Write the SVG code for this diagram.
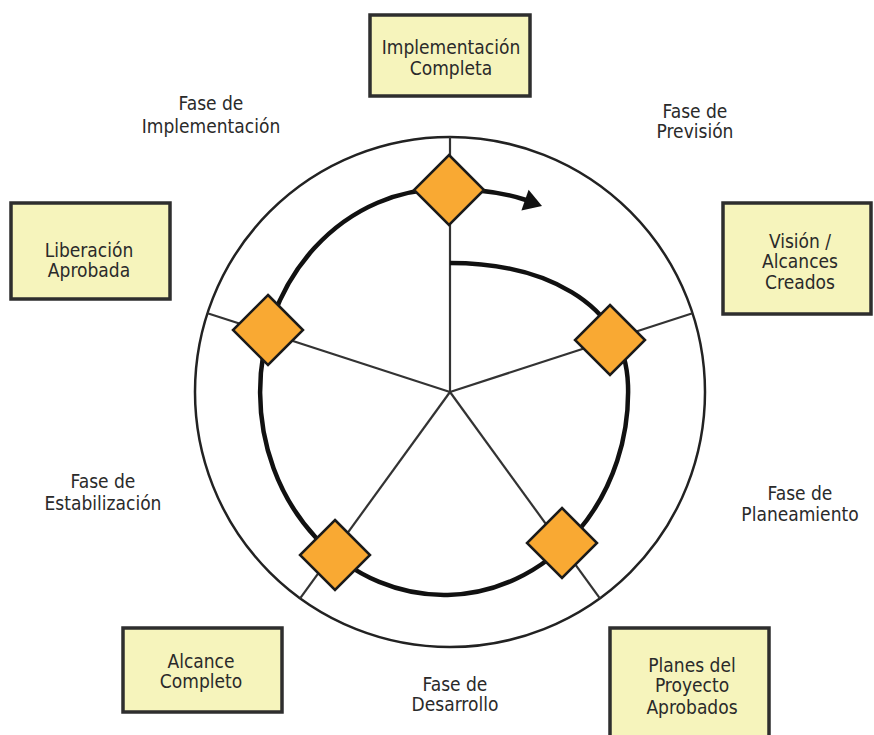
<svg xmlns="http://www.w3.org/2000/svg" width="874" height="735" viewBox="0 0 874 735">
<style>
.box{fill:#F6F4BC;stroke:#2e2e2e;stroke-width:3.5}
.t{font-family:"DejaVu Sans Condensed","DejaVu Sans",sans-serif;font-size:19px;fill:#2a2a2a;text-anchor:middle}
.spoke{stroke:#333;stroke-width:2.2;fill:none}
.ring{stroke:#222;stroke-width:2.5;fill:none}
.spiral{stroke:#111;stroke-width:4.5;fill:none}
.dia{fill:#F9A933;stroke:#1a1a1a;stroke-width:2.5}
</style>
<defs>
<path id="d" d="M0,-35 L35,0 L0,35 L-35,0 Z"/>
</defs>
<rect width="874" height="735" fill="#fff"/>
<g id="connectors">
<circle class="ring" cx="450" cy="392" r="255"/>
<line class="spoke" x1="450" y1="392" x2="450" y2="137"/>
<line class="spoke" x1="450" y1="392" x2="692.5" y2="313.2"/>
<line class="spoke" x1="450" y1="392" x2="599.9" y2="598.3"/>
<line class="spoke" x1="450" y1="392" x2="300.1" y2="598.3"/>
<line class="spoke" x1="450" y1="392" x2="207.5" y2="313.2"/>
<path class="spiral" d="M450,263 C540,263 625,300 628,385 A184,203 0 1 1 446,189 C475,189 505,193 526,200"/>
<polygon points="542,206 528.6,189.7 521.4,210.5" fill="#111"/>
</g>
<g id="d-top"><use href="#d" class="dia" x="449" y="190"/></g>
<g id="d-right"><use href="#d" class="dia" x="610" y="340"/></g>
<g id="d-lowright"><use href="#d" class="dia" x="562" y="543"/></g>
<g id="d-lowleft"><use href="#d" class="dia" x="335" y="555"/></g>
<g id="d-left"><use href="#d" class="dia" x="268" y="330"/></g>
<g id="box-impl"><rect class="box" x="370" y="15" width="160" height="81"/><text class="t" x="451" y="54">Implementación</text><text class="t" x="451" y="75">Completa</text></g>
<g id="box-lib"><rect class="box" x="11" y="203" width="159" height="96"/><text class="t" x="89" y="257">Liberación</text><text class="t" x="89" y="277">Aprobada</text></g>
<g id="box-vision"><rect class="box" x="723" y="203" width="148" height="111"/><text class="t" x="800" y="248">Visión /</text><text class="t" x="800" y="268">Alcances</text><text class="t" x="800" y="289">Creados</text></g>
<g id="box-alc"><rect class="box" x="123" y="628" width="159" height="84"/><text class="t" x="201" y="668">Alcance</text><text class="t" x="201" y="688">Completo</text></g>
<g id="box-planes"><rect class="box" x="610" y="628" width="159" height="112"/><text class="t" x="692" y="672">Planes del</text><text class="t" x="692" y="692">Proyecto</text><text class="t" x="692" y="714">Aprobados</text></g>
<g id="lbl-impl"><text class="t" x="211" y="110">Fase de</text><text class="t" x="211" y="133">Implementación</text></g>
<g id="lbl-prev"><text class="t" x="695" y="118">Fase de</text><text class="t" x="695" y="138">Previsión</text></g>
<g id="lbl-plan"><text class="t" x="800" y="500">Fase de</text><text class="t" x="800" y="521">Planeamiento</text></g>
<g id="lbl-des"><text class="t" x="455" y="691">Fase de</text><text class="t" x="455" y="711">Desarrollo</text></g>
<g id="lbl-est"><text class="t" x="103" y="488">Fase de</text><text class="t" x="103" y="510">Estabilización</text></g>
</svg>
